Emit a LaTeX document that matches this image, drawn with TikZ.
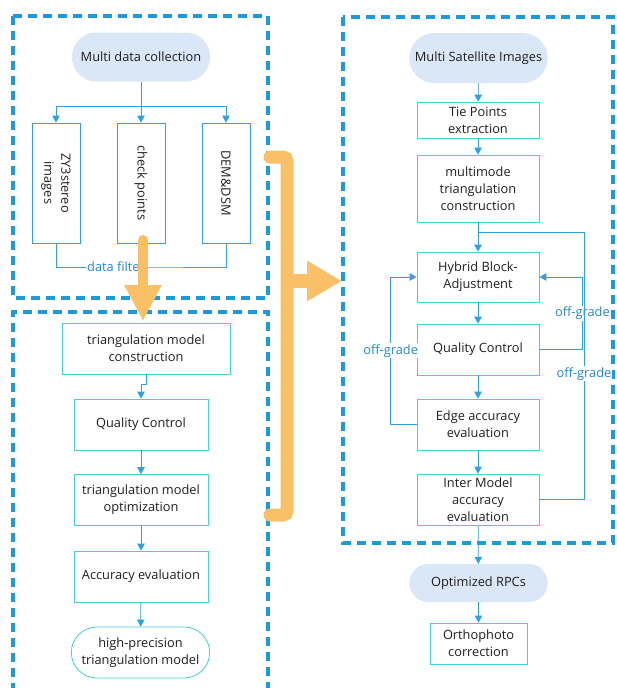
\documentclass[tikz,border=0pt]{standalone}
\usepackage{fontspec}
\setmainfont{Open Sans}
\usetikzlibrary{arrows.meta,shapes.misc}
\definecolor{frameblue}{RGB}{30,155,215}
\definecolor{lineblue}{RGB}{50,160,220}
\definecolor{boxcyan}{RGB}{72,206,214}
\definecolor{pillblue}{RGB}{218,231,246}
\definecolor{labelblue}{RGB}{40,135,200}
\definecolor{textgray}{RGB}{30,30,30}
\definecolor{orangefill}{RGB}{249,192,104}
\tikzstyle{procbox} = [rectangle, draw=boxcyan, line width=0.8pt, align=center, text=textgray, inner sep=2pt]
\tikzstyle{pill} = [rounded rectangle, fill=pillblue, text=textgray, minimum width=145pt, align=center]
\tikzstyle{vbox} = [rectangle, draw=lineblue, line width=0.8pt, rotate=-90, minimum width=120pt, minimum height=48pt, align=center, text=textgray]
\tikzstyle{conn} = [draw=lineblue, line width=0.8pt]
\tikzstyle{arr} = [conn, -{Triangle[length=7pt,width=7.5pt]}]
\tikzstyle{lbl} = [fill=white, text=labelblue, inner sep=1pt]
\tikzstyle{frame} = [draw=frameblue, line width=3.2pt, dash pattern=on 9pt off 6pt]
\tikzstyle{bigarrow} = [draw=orangefill, line cap=round]

\begin{document}
\begin{tikzpicture}[x=1pt, y=1pt, font=\fontsize{12.8pt}{17pt}\selectfont]
			\useasboundingbox (0,0) rectangle (616,-688);
			% dashed group frames
			\draw[frame] (13,-16) rectangle (268,-298);
			\draw[frame] (13,-692) -- (13,-312) -- (268,-312) -- (268,-692);
			\draw[frame] (343,-17) rectangle (613,-543);

			% data collection
			\node[pill, minimum height=49pt] (mdc) at (141,-57) {Multi data collection};
			\node[vbox] (zy) at (56,-183) {ZY3stereo\\images};
			\node[vbox] (ck) at (141,-183) {check points};
			\node[vbox] (dem) at (226,-183) {DEM\&DSM};
			\coordinate (fork) at (141,-106);
			\coordinate (filt) at (141,-267);
			\draw[conn] (mdc.south) -- (fork);
			\draw[arr] (fork) -| (zy.west);
			\draw[arr] (fork) -- (ck.west);
			\draw[arr] (fork) -| (dem.west);
			\draw[conn] (zy.east) |- (filt) -| (dem.east);
			\node[lbl] (filter) at (116,-267) {data filter};

			% triangulation model
			\node[procbox, minimum width=168pt, minimum height=51pt] (tmc) at (146,-348.5) {triangulation model\\construction};
			\node[procbox, minimum width=134pt, minimum height=51pt] (qc) at (141,-424.5) {Quality Control};
			\node[procbox, minimum width=134pt, minimum height=51pt] (tmo) at (141,-500) {triangulation model\\optimization};
			\node[procbox, minimum width=134pt, minimum height=51pt] (ae) at (141,-576.5) {Accuracy evaluation};
			\node[pill, fill=white, draw=boxcyan, line width=0.8pt, minimum height=51pt] (hp) at (140.5,-652.5) {high-precision\\triangulation model};
			\draw[arr] (tmc.south) -- ++(0,-10) -| (qc.north);
			\draw[arr] (qc) -- (tmo);
			\draw[arr] (tmo) -- (ae);
			\draw[arr] (ae) -- (hp);

			% satellite block adjustment
			\node[pill, minimum height=50pt] (msi) at (478.5,-58) {Multi Satellite Images};
			\node[procbox, minimum width=122pt, minimum height=36pt] (tie) at (478,-120) {Tie Points\\extraction};
			\node[procbox, minimum width=122pt, minimum height=67pt] (mtc) at (478,-188.5) {multimode\\triangulation\\construction};
			\node[procbox, minimum width=122pt, minimum height=50pt] (hyb) at (478,-277) {Hybrid Block-\\Adjustment};
			\node[procbox, minimum width=122pt, minimum height=51pt] (qcr) at (478,-349.5) {Quality Control};
			\node[procbox, minimum width=122pt, minimum height=51pt] (edge) at (478,-424.5) {Edge accuracy\\evaluation};
			\node[procbox, minimum width=122pt, minimum height=51pt] (inter) at (478,-499.5) {Inter Model\\accuracy\\evaluation};
			\node[pill, minimum height=38pt] (rpc) at (478.5,-583) {Optimized RPCs};
			\node[procbox, minimum width=97pt, minimum height=41pt] (ortho) at (478.5,-643.5) {Orthophoto\\correction};
			\coordinate (join) at (478,-232);
			\coordinate (loopr) at (584,-232);
			\draw[arr] (msi) -- (tie);
			\draw[arr] (tie) -- (mtc);
			\draw[arr] (mtc) -- (hyb);
			\draw[arr] (hyb) -- (qcr);
			\draw[arr] (qcr) -- (edge);
			\draw[arr] (edge) -- (inter);
			\draw[arr] (inter) -- (rpc);
			\draw[arr] (rpc) -- (ortho);
			\draw[arr] (qcr.east) -- ++(43,0) |- node[lbl, pos=0.25] {off-grade} (hyb.east);
			\draw[arr] (edge.west) -- ++(-26,0) |- node[lbl, pos=0.25] {off-grade} (hyb.west);
			\draw[conn] (inter.east) -| node[lbl, pos=0.735] {off-grade} (loopr) -- (join);

			% orange flow arrows
			\draw[bigarrow, line width=10pt, -{Triangle[length=36pt,width=35pt]}] (143,-240) -- (143,-321);
			\draw[bigarrow, line width=13pt, rounded corners=4pt] (270,-157) -- (287,-157) -- (287,-515) -- (270,-515);
			\draw[bigarrow, line width=14pt, line cap=butt, -{Triangle[length=35pt,width=38pt]}] (287,-281) -- (342,-281);
		\end{tikzpicture}
\end{document}
